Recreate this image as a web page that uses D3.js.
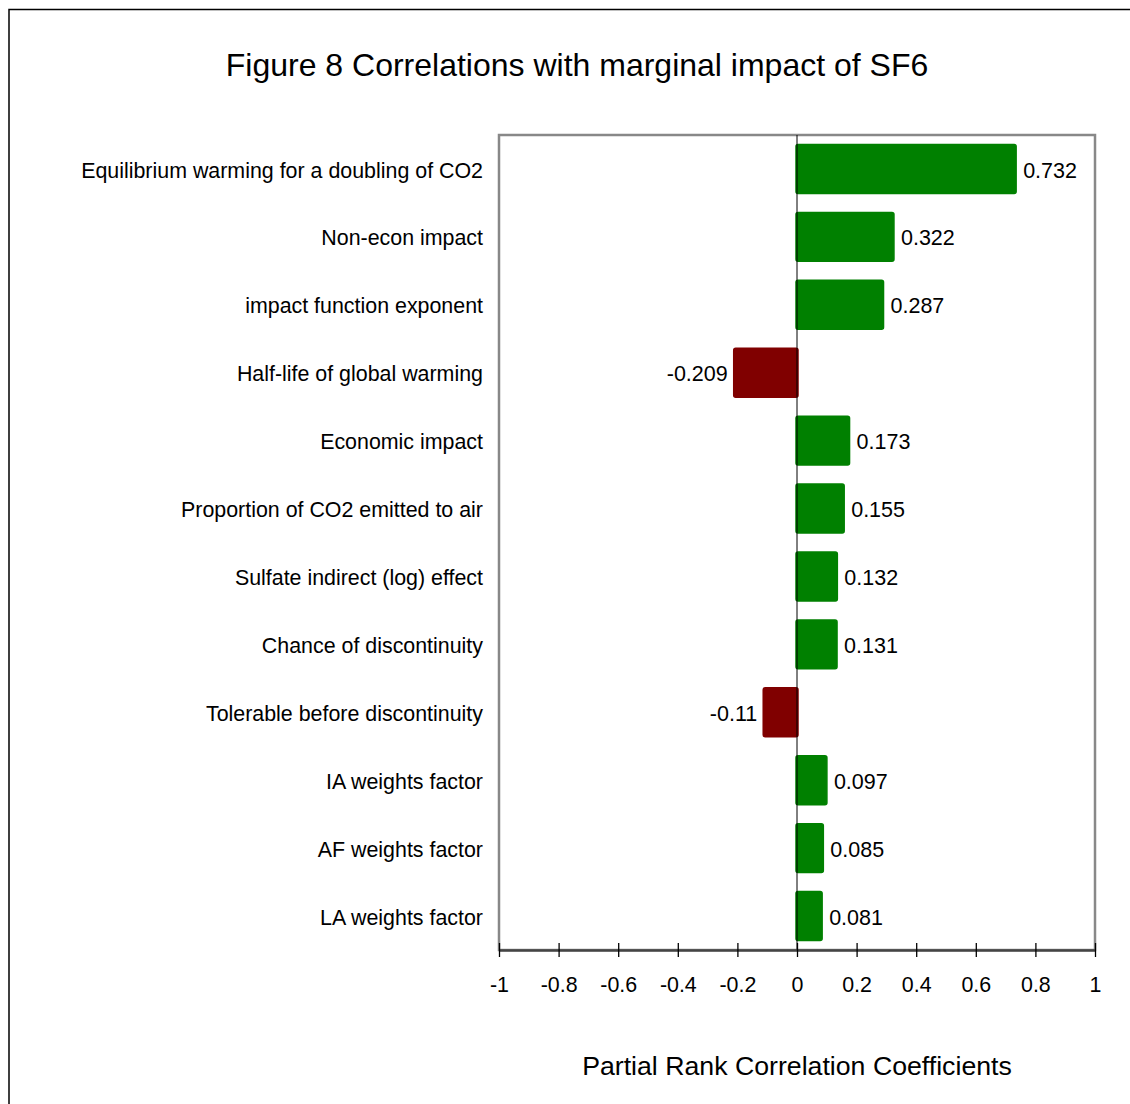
<!DOCTYPE html>
<html>
<head>
<meta charset="utf-8">
<script src="https://cdn.jsdelivr.net/npm/d3@7"></script>
<style>
  body { margin: 0; background: #fff; }
  text { font-family: "Liberation Sans", Arial, sans-serif; fill: #000; }
</style>
</head>
<body>
<script>
// partial rank correlations, marginal impact of SF6

var labels = [
  "Equilibrium warming for a doubling of CO2",
  "Non-econ impact",
  "impact function exponent",
  "Half-life of global warming",
  "Economic impact",
  "Proportion of CO2 emitted to air",
  "Sulfate indirect (log) effect",
  "Chance of discontinuity",
  "Tolerable before discontinuity",
  "IA weights factor",
  "AF weights factor",
  "LA weights factor"
];
var values = [0.732, 0.322, 0.287, -0.209, 0.173, 0.155, 0.132, 0.131, -0.11, 0.097, 0.085, 0.081];
var valueText = ["0.732", "0.322", "0.287", "-0.209", "0.173", "0.155", "0.132", "0.131", "-0.11", "0.097", "0.085", "0.081"];
var ticks = [-1, -0.8, -0.6, -0.4, -0.2, 0, 0.2, 0.4, 0.6, 0.8, 1];
var tickText = ["-1", "-0.8", "-0.6", "-0.4", "-0.2", "0", "0.2", "0.4", "0.6", "0.8", "1"];

var width = 1130, height = 1104;
var margin = {top: 135, right: 35, bottom: 154, left: 499};

var svg = d3.select("body")
  .append("svg")
  .attr("width", width)
  .attr("height", height);

// outer frame (right and bottom run off the page)
svg.append("path")
  .attr("d", "M9,1104 V9.5 H1130")
  .attr("fill", "none")
  .attr("stroke", "#000")
  .attr("stroke-width", 1.5);

svg.append("text")
  .attr("x", 577)
  .attr("y", 76)
  .attr("text-anchor", "middle")
  .style("font-size", "32px")
  .text("Figure 8 Correlations with marginal impact of SF6");

var x = d3.scaleLinear()
  .domain([-1, 1])
  .range([margin.left, width - margin.right]);

var y = d3.scaleBand()
  .domain(labels)
  .range([margin.top, height - margin.bottom])
  .paddingInner(0.28)
  .paddingOuter(0.14);

// plot frame
svg.append("rect")
  .attr("x", x(-1))
  .attr("y", margin.top)
  .attr("width", x(1) - x(-1))
  .attr("height", height - margin.bottom - margin.top)
  .attr("fill", "none")
  .attr("stroke", "#888")
  .attr("stroke-width", 2.5);

var bars = svg.append("g");

bars.selectAll("rect")
  .data(values)
  .enter()
  .append("rect")
  .attr("x", function(d) { return Math.min(x(0), x(d)) - 1; })
  .attr("y", function(d, i) { return y(labels[i]); })
  .attr("width", function(d) { return Math.abs(x(d) - x(0)) + 2; })
  .attr("height", y.bandwidth())
  .attr("rx", 2)
  .attr("fill", function(d) { return d < 0 ? "#800000" : "#008000"; })
  .attr("stroke", function(d) { return d < 0 ? "#800000" : "#008000"; })
  .attr("stroke-width", 1.5);

// zero line
svg.append("line")
  .attr("x1", x(0))
  .attr("x2", x(0))
  .attr("y1", margin.top)
  .attr("y2", height - margin.bottom)
  .attr("stroke", "#000")
  .attr("stroke-width", 1);

// value labels
svg.append("g")
  .selectAll("text")
  .data(values)
  .enter()
  .append("text")
  .attr("x", function(d) { return d < 0 ? x(d) - 7 : x(d) + 8; })
  .attr("y", function(d, i) { return y(labels[i]) + y.bandwidth() / 2; })
  .attr("dy", "0.4em")
  .attr("text-anchor", function(d) { return d < 0 ? "end" : "start"; })
  .style("font-size", "21.5px")
  .text(function(d, i) { return valueText[i]; });

// category labels
svg.append("g")
  .selectAll("text")
  .data(labels)
  .enter()
  .append("text")
  .attr("x", 483)
  .attr("y", function(d) { return y(d) + y.bandwidth() / 2; })
  .attr("dy", "0.4em")
  .attr("text-anchor", "end")
  .style("font-size", "21.4px")
  .text(function(d) { return d; });

// x axis
var axis = svg.append("g")
  .attr("transform", "translate(0," + (height - margin.bottom) + ")")
  .call(d3.axisBottom(x).tickValues(ticks).tickSize(0).tickPadding(27)
    .tickFormat(function(d, i) { return tickText[i]; }));

axis.select(".domain")
  .attr("stroke", "#444")
  .attr("stroke-width", 2.5);

axis.selectAll(".tick text")
  .style("font-size", "21.4px")
  .style("font-family", "Liberation Sans, Arial, sans-serif")
  .attr("fill", "#000");

axis.selectAll(".tick")
  .append("line")
  .attr("y1", -7)
  .attr("y2", 7)
  .attr("stroke", "#000")
  .attr("stroke-width", 1.3);

svg.append("text")
  .attr("x", x(0))
  .attr("y", 1075)
  .attr("text-anchor", "middle")
  .style("font-size", "26.7px")
  .text("Partial Rank Correlation Coefficients");
</script>
</body>
</html>
